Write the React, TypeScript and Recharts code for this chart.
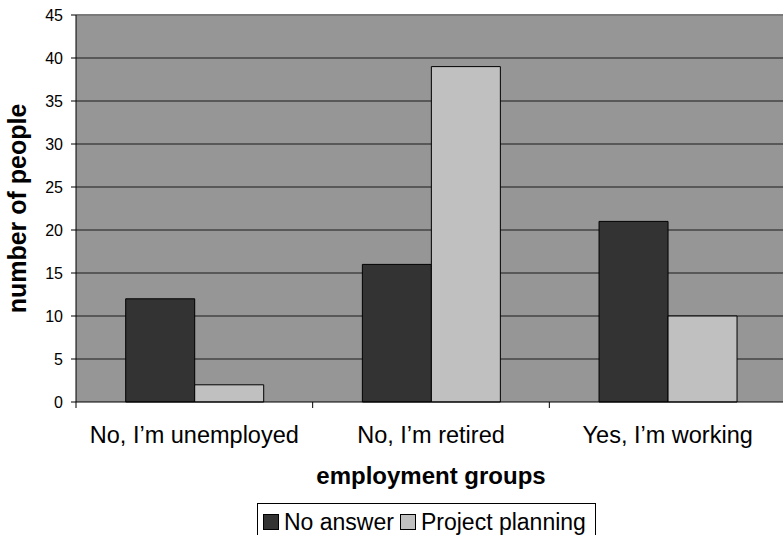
import { Bar, BarChart, CartesianGrid, Label, Legend, ReferenceLine, XAxis, YAxis } from "recharts";

const groups = ["No, I’m unemployed", "No, I’m retired", "Yes, I’m working"];
const noAnswer = [12, 16, 21];
const projectPlanning = [2, 39, 10];
const yTicks = [0, 5, 10, 15, 20, 25, 30, 35, 40, 45];

const seriesInfo = [
  { key: "noAnswer", name: "No answer", color: "#333333" },
  { key: "projectPlanning", name: "Project planning", color: "#c0c0c0" },
];

const data = groups.map((g, i) => ({
  name: g,
  noAnswer: noAnswer[i],
  projectPlanning: projectPlanning[i],
}));

const FONT = "'Liberation Sans', Arial, Helvetica, sans-serif";
const W = 790;
const H = 535;
const LEFT = 76;
const RIGHT = 4;
const catW = (W - LEFT - RIGHT) / groups.length;

function CatTick(props: any) {
  const { x, y, payload, index } = props;
  const half = catW / 2;
  return (
    <g>
      <line x1={x - half} x2={x - half} y1={y} y2={y + 6} stroke="#000" />
      {index === groups.length - 1 && (
        <line x1={x + half} x2={x + half} y1={y} y2={y + 6} stroke="#000" />
      )}
      <text x={x} y={y + 41} textAnchor="middle" fontSize={23.5} fontFamily={FONT} fill="#000">
        {payload.value}
      </text>
    </g>
  );
}

function LegendBox() {
  return (
    <div
      style={{
        border: "1px solid #000",
        background: "#fff",
        display: "flex",
        alignItems: "center",
        padding: "6px 9px 12px 5px",
        fontFamily: FONT,
        fontSize: 23,
        lineHeight: "24px",
        color: "#000",
        whiteSpace: "nowrap",
      }}
    >
      {seriesInfo.map((s, i) => (
        <div key={s.key} style={{ display: "flex", alignItems: "center", marginLeft: i ? 6 : 0 }}>
          <span
            style={{
              display: "inline-block",
              width: 14,
              height: 14,
              background: s.color,
              border: "1px solid #000",
              marginRight: 5,
            }}
          />
          <span>{s.name}</span>
        </div>
      ))}
    </div>
  );
}

export default function App() {
  return (
    <div style={{ position: "absolute", left: 0, top: 0, width: 783, height: H, overflow: "hidden", background: "#fff" }}>
      <BarChart
        width={W}
        height={H}
        data={data}
        margin={{ top: 15, right: RIGHT, left: 0, bottom: 0 }}
        barCategoryGap="21%"
        barGap={0}
      >
        <CartesianGrid
          vertical={false}
          horizontalValues={[5, 10, 15, 20, 25, 30, 35, 40]}
          stroke="#1a1a1a"
          fill="#969696"
          fillOpacity={1}
        />
        <ReferenceLine y={45} stroke="#7a7a7a" strokeWidth={2} />
        <XAxis
          dataKey="name"
          height={133}
          tickLine={false}
          tickSize={0}
          tickMargin={0}
          axisLine={{ stroke: "#000" }}
          tick={<CatTick />}
          interval={0}
        >
          <Label
            value="employment groups"
            position="insideTop"
            offset={65}
            fontSize={24}
            fontWeight="bold"
            fontFamily={FONT}
            fill="#000"
          />
        </XAxis>
        <YAxis
          width={LEFT}
          domain={[0, 45]}
          ticks={yTicks}
          interval={0}
          tickSize={5}
          tickMargin={8}
          axisLine={{ stroke: "#000" }}
          tickLine={{ stroke: "#000" }}
          tick={{ fontSize: 16, fontFamily: FONT, fill: "#000" }}
        >
          <Label
            content={(p: any) => {
              const vb = p.viewBox;
              const cx = vb.x + 26;
              const cy = vb.y + vb.height / 2;
              return (
                <text
                  x={cx}
                  y={cy}
                  transform={`rotate(-90, ${cx}, ${cy})`}
                  textAnchor="middle"
                  fontSize={25}
                  fontWeight="bold"
                  fontFamily={FONT}
                  fill="#000"
                >
                  number of people
                </text>
              );
            }}
          />
        </YAxis>
        <Legend
          layout="horizontal"
          verticalAlign="middle"
          align="center"
          wrapperStyle={{ left: 257, top: 503, width: "auto" }}
          content={() => <LegendBox />}
        />
        {seriesInfo.map((s) => (
          <Bar
            key={s.key}
            dataKey={s.key}
            name={s.name}
            fill={s.color}
            stroke="#000"
            strokeWidth={1}
            isAnimationActive={false}
          />
        ))}
      </BarChart>
    </div>
  );
}
